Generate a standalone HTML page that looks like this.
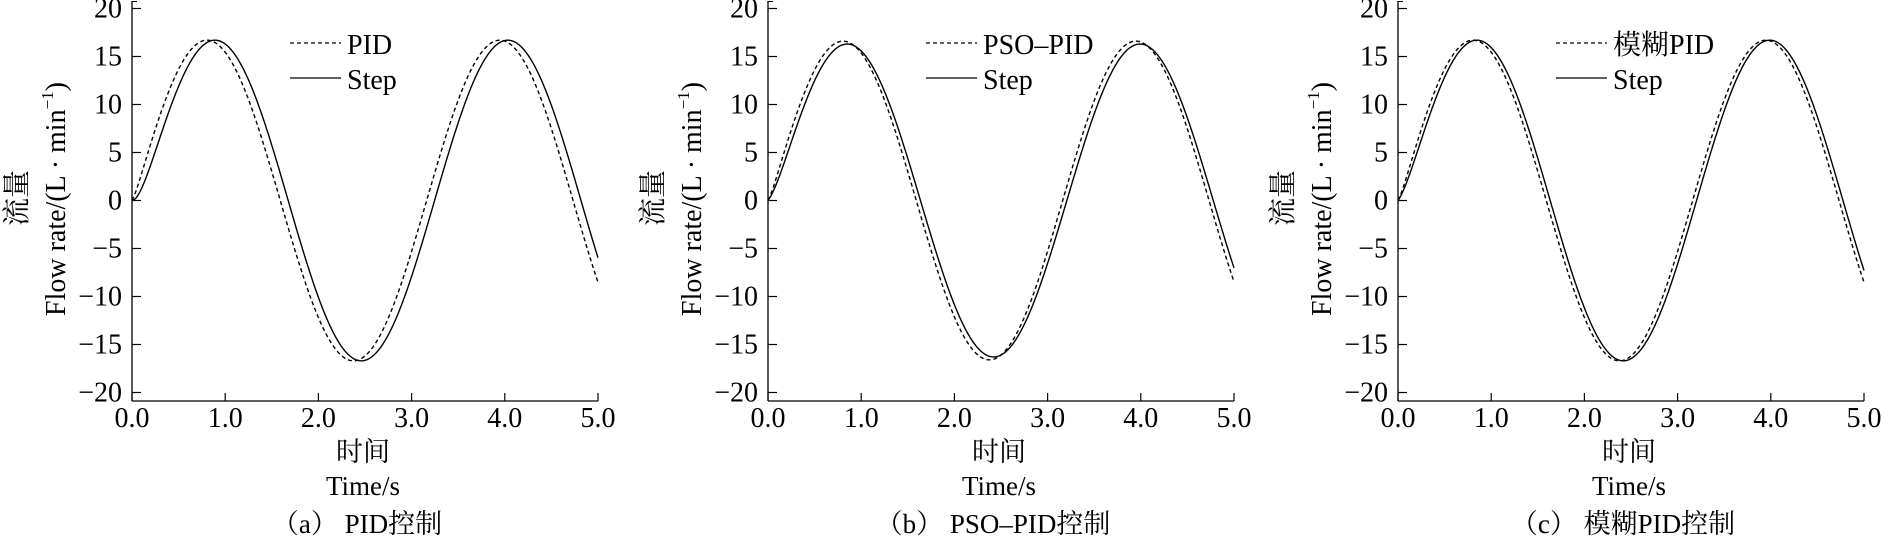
<!DOCTYPE html>
<html><head><meta charset="utf-8"><style>
html,body{margin:0;padding:0;background:#fff;}
svg{display:block;}
text{font-family:"Liberation Serif","Noto Serif CJK SC","Noto Sans CJK SC",serif;fill:#000;}
</style></head><body>
<svg id="s" width="1884" height="542" xmlns="http://www.w3.org/2000/svg"></svg>
<script>
const NS="http://www.w3.org/2000/svg";
const s=document.getElementById('s');
function el(n,a,t){const e=document.createElementNS(NS,n);for(const k in a)e.setAttribute(k,a[k]);if(t!==undefined)e.textContent=t;s.appendChild(e);return e;}
const panels=[
 {off:0,leg:"PID",cap:"（a） PID控制",
  st:{A:16.7,p:0.21}, da:{A:16.7,p:0.04}},
 {off:636,leg:"PSO–PID",cap:"（b） PSO–PID控制",
  st:{A:16.3,p:0.13}, da:{A:16.6,p:0.04}},
 {off:1266,leg:"模糊PID",cap:"（c） 模糊PID控制",
  st:{A:16.7,p:0.124}, da:{A:16.7,p:0.04}}
];
const X0=132,W=466,Y0=200.5,SY=9.6,SX=W/5;
panels.forEach(P=>{
 const ax=X0+P.off;
 const X=t=>ax+t*SX, Y=v=>Y0-v*SY;
 // axes
 el('line',{x1:ax,y1:1,x2:ax,y2:401,stroke:'#000','stroke-width':1.3});
 el('line',{x1:ax,y1:401,x2:ax+W,y2:401,stroke:'#000','stroke-width':1.3});
 el('line',{x1:ax,y1:1.5,x2:ax+5,y2:1.5,stroke:'#000','stroke-width':1});
 for(let v=-20;v<=20;v+=5){
  el('line',{x1:ax,y1:Y(v),x2:ax+9,y2:Y(v),stroke:'#000','stroke-width':1.2});
  el('text',{x:ax-10,y:Y(v)+9,'font-size':28,'text-anchor':'end'},(v<0?'−':'')+Math.abs(v));
 }
 for(let t=0;t<=5;t++){
  el('line',{x1:X(t),y1:401,x2:X(t),y2:393,stroke:'#000','stroke-width':1.2});
  el('text',{x:X(t),y:427,'font-size':28,'text-anchor':'middle'},t+'.0');
 }
 const cx=ax+W/2-2;
 el('text',{x:cx,y:461,'font-size':27,'text-anchor':'middle'},'时间');
 el('text',{x:cx,y:495,'font-size':27,'text-anchor':'middle'},'Time/s');
 el('text',{x:cx-6,y:533,'font-size':27,'text-anchor':'middle'},P.cap);
 // y label
 const g1=el('text',{x:0,y:0,'font-size':28,'text-anchor':'middle',transform:`translate(${ax-106},198) rotate(-90)`},'流量');
 const g2=el('text',{x:0,y:0,'font-size':28,'text-anchor':'middle',transform:`translate(${ax-67},199) rotate(-90)`});
 g2.innerHTML='Flow rate/(L · min<tspan font-size="17" dy="-12">−1</tspan><tspan dy="12">)</tspan>';
 // curves
 function path(c,tau,dash){
  let d='';
  const off0=c.A*Math.sin(c.p);
  for(let i=0;i<=500;i++){
   const t=i/100;
   const v=c.A*Math.sin(2*t-c.p)+off0*Math.exp(-t/tau);
   d+=(i?'L':'M')+X(t).toFixed(2)+' '+Y(v).toFixed(2);
  }
  const a={d:d,fill:'none',stroke:'#000','stroke-width':1.4};
  if(dash)a['stroke-dasharray']='4 3';
  el('path',a);
 }
 path(P.da,0.04,true);
 path(P.st,0.107,false);
 // legend
 const lx=ax+158;
 el('line',{x1:lx,y1:43,x2:lx+51,y2:43,stroke:'#000','stroke-width':1.3,'stroke-dasharray':'4 3'});
 el('line',{x1:lx,y1:78,x2:lx+51,y2:78,stroke:'#000','stroke-width':1.3});
 el('text',{x:lx+57,y:54,'font-size':28},P.leg);
 el('text',{x:lx+57,y:89,'font-size':28},'Step');
});
</script>
</body></html>
